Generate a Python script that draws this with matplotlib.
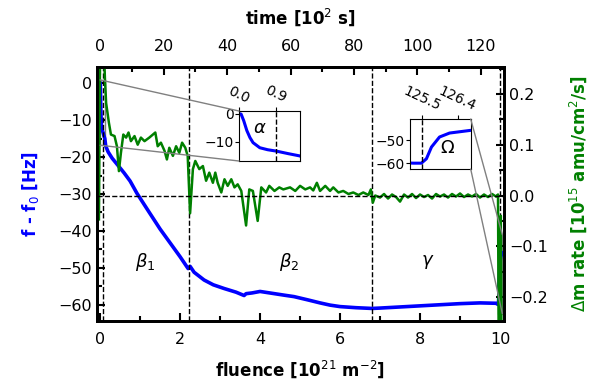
import matplotlib
matplotlib.use("Agg")
import matplotlib.pyplot as plt
from matplotlib.patches import ConnectionPatch, Rectangle
from matplotlib.ticker import MultipleLocator

# time [1e2 s] per fluence [1e21 m^-2]
T_PER_F = 12.6

# frequency shift (blue), x in fluence
blue_f = [0.0, 0.004, 0.009, 0.015, 0.021, 0.027, 0.04, 0.055, 0.072, 0.095, 0.117,
          0.14, 0.2, 0.3, 0.42, 0.6, 0.75, 0.92, 1.2, 1.5, 1.8, 2.0, 2.2, 2.25, 2.35,
          2.6, 2.83, 3.1, 3.4, 3.6, 3.65, 3.8, 4.0, 4.3, 4.6, 4.85, 5.2, 5.5, 5.75,
          6.0, 6.4, 6.8, 7.0, 7.5, 8.0, 8.5, 9.0, 9.5, 9.9, 9.945, 9.96, 9.97, 9.98,
          9.996, 10.016, 10.056]
blue_v = [0.0, -0.2, -2.5, -6.0, -8.5, -10.3, -12.1, -12.8, -13.3, -14.2, -15.0,
          -17.0, -18.6, -20.3, -21.9, -24.3, -26.5, -29.8, -34.5, -39.5, -44.0, -47.0,
          -50.2, -49.6, -51.2, -53.3, -54.6, -55.6, -56.6, -57.5, -57.0, -56.8, -56.4,
          -56.9, -57.4, -57.8, -58.7, -59.5, -60.1, -60.5, -60.8, -61.0, -60.9, -60.6,
          -60.3, -60.0, -59.7, -59.5, -59.6, -59.9, -59.9, -58.0, -53.0, -48.7, -47.0,
          -45.9]

# mass rate (green), x in fluence
green_f = [-0.03, 0.0, 0.09, 0.12, 0.15, 0.22, 0.27, 0.36, 0.42, 0.47, 0.52, 0.58,
           0.65, 0.71, 0.77, 0.86, 0.94, 1.02, 1.11, 1.23, 1.38, 1.44, 1.52, 1.61,
           1.67, 1.73, 1.82, 1.90, 1.98, 2.05, 2.13, 2.19, 2.25, 2.32, 2.38, 2.48,
           2.57, 2.65, 2.73, 2.82, 2.88, 2.94, 3.03, 3.11, 3.19, 3.28, 3.36, 3.44,
           3.53, 3.65, 3.73, 3.82, 3.94, 4.03, 4.15, 4.23, 4.36, 4.48, 4.58, 4.75,
           4.88, 5.0, 5.13, 5.25, 5.33, 5.42, 5.5, 5.63, 5.75, 5.83, 5.96, 6.08,
           6.21, 6.33, 6.46, 6.58, 6.71, 6.77, 6.82, 6.88, 7.0, 7.1, 7.2, 7.3, 7.4,
           7.5, 7.6, 7.7, 7.8, 7.9, 8.0, 8.1, 8.2, 8.3, 8.4, 8.5, 8.6, 8.7, 8.8,
           8.9, 9.0, 9.1, 9.2, 9.3, 9.4, 9.5, 9.6, 9.7, 9.8, 9.9, 9.95, 9.965,
           10.0, 10.02, 10.035]
green_v = [-0.047, 0.30, 0.30, 0.23, 0.182, 0.143, 0.12, 0.117, 0.097, 0.048, 0.084,
           0.12, 0.114, 0.124, 0.107, 0.117, 0.100, 0.114, 0.107, 0.114, 0.124, 0.097,
           0.104, 0.088, 0.071, 0.094, 0.078, 0.097, 0.084, 0.104, 0.094, 0.078,
           -0.035, 0.052, 0.068, 0.052, 0.058, 0.029, 0.045, 0.025, 0.045, 0.025,
           0.006, 0.032, 0.019, 0.032, 0.016, 0.022, 0.009, -0.059, 0.012, 0.009,
           -0.050, 0.016, 0.006, 0.019, 0.009, 0.016, 0.012, 0.016, 0.009, 0.019,
           0.012, 0.016, 0.010, 0.025, 0.009, 0.019, 0.009, 0.016, 0.006, 0.009,
           0.003, 0.006, 0.001, 0.006, 0.001, 0.012, -0.014, 0.0, -0.004, 0.003,
           -0.006, 0.002, -0.003, -0.012, 0.002, -0.004, 0.003, -0.005, 0.002,
           -0.003, 0.001, -0.006, 0.003, -0.002, 0.002, -0.004, 0.003, -0.002, 0.004,
           -0.003, 0.002, -0.002, 0.003, -0.004, 0.002, -0.003, 0.003, -0.002, 0.002,
           -0.26, -0.26, -0.04, -0.26]

stage_bounds = [0.9 / T_PER_F, 2.22, 6.8, 9.99]
stage_names = [r'$\beta_1$', r'$\beta_2$', r'$\gamma$']
stage_x = [1.12, 4.73, 8.2]

fig = plt.figure(figsize=(5.94, 3.81), dpi=100)
ax = fig.add_axes([0.1625, 0.1575, 0.686, 0.6667])

ax.plot(blue_f, blue_v, color='blue', lw=2.6)
for xb in stage_bounds:
    ax.axvline(xb, color='k', ls='--', lw=1)
for name, xs in zip(stage_names, stage_x):
    ax.text(xs, -48.5, name, fontsize=13, ha='center', va='center')

ax.set_xlim(-0.09, 10.1)
ax.set_ylim(-64.4, 4.4)
ax.xaxis.set_major_locator(MultipleLocator(2))
ax.xaxis.set_minor_locator(MultipleLocator(1))
ax.yaxis.set_major_locator(MultipleLocator(10))
ax.yaxis.set_minor_locator(MultipleLocator(5))
ax.tick_params(which='both', direction='in', labelsize=11.5, width=1.5)
ax.tick_params(which='major', length=6)
ax.tick_params(which='minor', length=3.5)
ax.tick_params(axis='x', pad=8)
ax.set_xlabel(r'fluence [10$^{21}$ m$^{-2}$]', fontsize=12, fontweight='bold', labelpad=8)
ax.set_ylabel(r'f - f$_0$ [Hz]', fontsize=12, fontweight='bold', color='blue', labelpad=12)
for sp in ax.spines.values():
    sp.set_linewidth(2)

top = ax.secondary_xaxis('top', functions=(lambda f: f * T_PER_F, lambda t: t / T_PER_F))
top.xaxis.set_major_locator(MultipleLocator(20))
top.xaxis.set_minor_locator(MultipleLocator(10))
top.tick_params(which='both', direction='in', labelsize=11.5, width=1.5, pad=9)
top.tick_params(which='major', length=6)
top.tick_params(which='minor', length=3.5)
top.set_xlabel(r'time [10$^2$ s]', fontsize=12, fontweight='bold', labelpad=11)
top.spines['top'].set_linewidth(2)

ax2 = ax.twinx()
ax2.plot(green_f, green_v, color='green', lw=1.8)
ax2.axhline(0, color='k', ls='--', lw=1)
ax2.set_ylim(-0.247, 0.253)
ax2.yaxis.set_major_locator(MultipleLocator(0.1))
ax2.yaxis.set_minor_locator(MultipleLocator(0.05))
ax2.tick_params(which='both', direction='in', labelsize=11.5, width=1.5)
ax2.tick_params(which='major', length=6)
ax2.tick_params(which='minor', length=3.5)
ax2.set_ylabel(r'$\Delta$m rate [10$^{15}$ amu/cm$^2$/s]', fontsize=12,
               fontweight='bold', color='green', labelpad=14)
for sp in ax2.spines.values():
    sp.set_linewidth(2)

blue_t = [f * T_PER_F for f in blue_f]


def make_inset(rect, xlim, ylim, yticks, xticks, vline, label, lab_xy, corners):
    ins = fig.add_axes(rect)
    ins.plot(blue_t, blue_v, color='blue', lw=2.2)
    ins.axvline(vline, color='k', ls='--', lw=1)
    ins.set_xlim(*xlim)
    ins.set_ylim(*ylim)
    ins.set_xticks(xticks)
    ins.set_xticklabels(['%.1f' % x for x in xticks], rotation=-25, ha='center')
    ins.set_yticks(yticks)
    ins.tick_params(bottom=False, labelbottom=False, top=True, labeltop=True,
                    labelsize=10, length=3, pad=1)
    ins.text(*lab_xy, label, fontsize=13, ha='center', va='center')
    # matching region in the main axes
    fx = [x / T_PER_F for x in xlim]
    ax.add_patch(Rectangle((fx[0], ylim[0]), fx[1] - fx[0], ylim[1] - ylim[0],
                           fill=False, ec='gray', lw=1))
    for c in corners:
        px = fx[0] if c[0] == 0 else fx[1]
        py = ylim[0] if c[1] == 0 else ylim[1]
        con = ConnectionPatch(xyA=c, coordsA=ins.transAxes, xyB=(px, py),
                              coordsB=ax.transData, color='gray', lw=1)
        fig.add_artist(con)
    return ins


make_inset([0.4024, 0.5774, 0.1027, 0.1312], (0.0, 1.48), (-16.8, 0.9), [0, -10],
           [0.0, 0.9], 0.9, r'$\alpha$', (0.5, -5), [(0, 1), (0, 0)])
make_inset([0.6902, 0.5564, 0.1022, 0.1312], (125.21, 126.73), (-62.4, -41.0),
           [-50, -60], [125.5, 126.4], 125.5, r'$\Omega$', (126.15, -53.5),
           [(1, 1), (1, 0)])

fig.savefig('out.png', dpi=100)
